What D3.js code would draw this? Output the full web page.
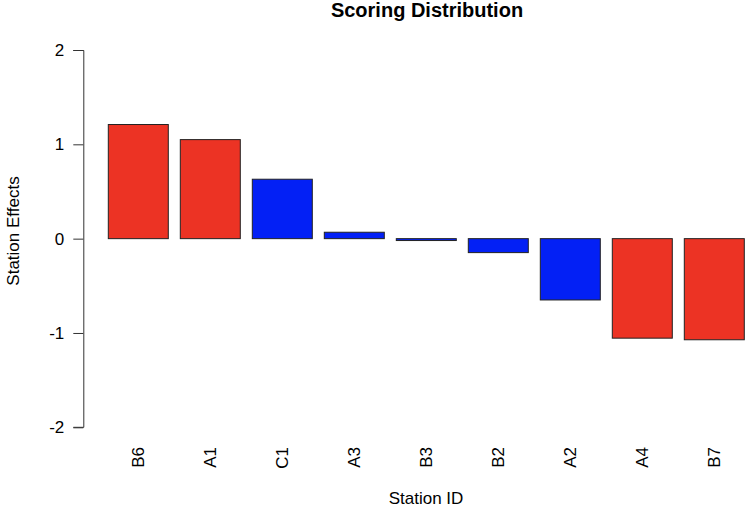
<!DOCTYPE html>
<html><head><meta charset="utf-8">
<script src="https://cdn.jsdelivr.net/npm/d3@7"></script>
<style>body{margin:0;background:#fff;} text{font-family:"Liberation Sans",Arial,Helvetica,sans-serif;fill:#000;}</style>
</head><body>
<svg id="chart" width="750" height="509"></svg>
<script>
const categories = ["B6","A1","C1","A3","B3","B2","A2","A4","B7"];
const values = [1.21, 1.05, 0.63, 0.068, -0.02, -0.148, -0.65, -1.055, -1.072];
const groups = ["red","red","blue","blue","blue","blue","blue","red","red"];
const yTicks = [-2,-1,0,1,2];
const title = "Scoring Distribution";
const xLabel = "Station ID";
const yLabel = "Station Effects";

const colors = {red:"#EC3324", blue:"#0320F5"};
const svg = d3.select("#chart");

// x in barplot units: bar i spans [0.2+1.2i, 1.2+1.2i]
const x = d3.scaleLinear().domain([0, 1]).range([96.3, 156.3]);
const y = d3.scaleLinear().domain([-2, 2]).range([427.3, 50]);

svg.selectAll("rect.bar").data(values).enter().append("rect")
  .attr("class","bar")
  .attr("x",(d,i)=>x(0.2+1.2*i))
  .attr("width",(d,i)=>x(1.2+1.2*i)-x(0.2+1.2*i))
  .attr("y",d=>y(Math.max(0,d)))
  .attr("height",d=>Math.abs(y(d)-y(0)))
  .attr("fill",(d,i)=>colors[groups[i]])
  .attr("stroke","#222").attr("stroke-width",1);

const yAxis = d3.axisLeft(y).tickValues(yTicks).tickFormat(d=>String(d)).tickSize(10).tickPadding(9);
const gy = svg.append("g").attr("transform","translate(83.3,0)").call(yAxis);
gy.select(".domain").attr("stroke","#333").attr("d","M-10,50.5H0.5V427.3H-10");
gy.selectAll(".tick line").attr("stroke","#333");
gy.selectAll("text").style("font-size","17px").style("font-family","Liberation Sans, Arial, sans-serif").attr("fill","#000");

// x labels
svg.selectAll("text.xl").data(categories).enter().append("text")
  .attr("class","xl")
  .attr("transform",(d,i)=>`translate(${x(0.7+1.2*i)+6},447) rotate(-90)`)
  .attr("text-anchor","end")
  .style("font-size","17px")
  .text(d=>d);

svg.append("text").attr("x",427).attr("y",17).attr("text-anchor","middle")
  .style("font-size","20px").style("font-weight","bold").text(title);
svg.append("text").attr("x",426).attr("y",504).attr("text-anchor","middle")
  .style("font-size","17px").text(xLabel);
svg.append("text").attr("transform","translate(19,231) rotate(-90)").attr("text-anchor","middle")
  .style("font-size","17px").text(yLabel);
</script>
</body></html>
